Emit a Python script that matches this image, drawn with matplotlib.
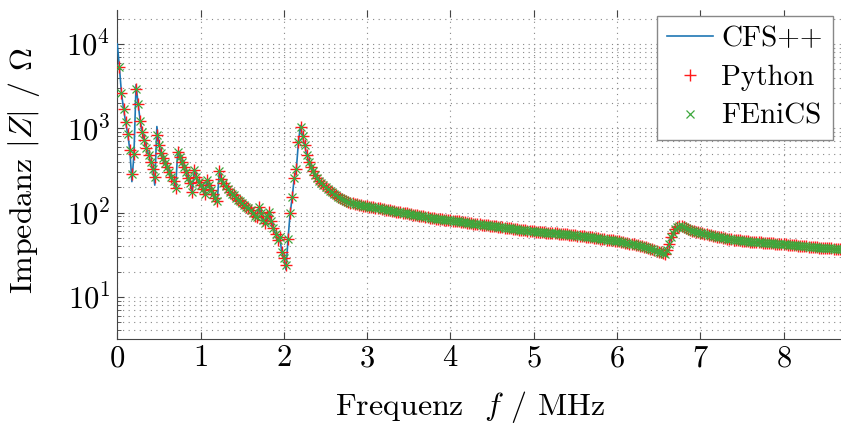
import numpy as np
import matplotlib.pyplot as plt
from matplotlib.ticker import LogLocator, NullFormatter

# frequency sweep: uniform steps of 0.025 MHz, 350 points
f_start = 0.025
f_step = 0.025
n_points = 350

# |Z| in Ohm (Python / FEniCS results), one row = 10 frequency steps
python_z = [
    5300, 2600, 1700, 1180, 850, 560, 290, 500, 2920, 1940,
    1220, 910, 720, 590, 480, 400, 330, 267, 830, 640,
    505, 440, 390, 345, 305, 267, 235, 194, 530, 460,
    400, 345, 300, 260, 225, 178, 320, 267, 233, 210,
    190, 168, 245, 210, 185, 165, 150, 136, 310, 250,
    225, 205, 190, 178, 168, 160, 150, 142, 136, 130,
    124, 118, 112, 106, 98, 92, 88, 118, 100, 82,
    76, 90, 103, 80, 65, 56, 47, 52, 34, 29,
    24, 49, 98, 152, 260, 330, 690, 1050, 800, 630,
    480, 400, 350, 310, 280, 258, 240, 225, 212, 200,
    190, 182, 175, 167, 161, 155, 150, 145, 141, 137,
    134, 131, 129, 127, 125, 123.5, 122, 121, 120, 119,
    118, 117, 116, 114.5, 113, 112, 110.5, 109, 108, 107,
    106, 105, 104, 103, 102, 101, 100, 99, 98, 97,
    96, 95, 94, 93, 92, 91, 90, 89, 88, 87,
    86.5, 86, 85, 84.5, 84, 83, 82.5, 82, 81.5, 81,
    80.5, 80, 79, 78.5, 78, 77, 76.5, 76, 75, 74.5,
    74, 73.5, 73, 72.5, 72, 71.5, 71, 70.5, 70, 69.5,
    69, 68.5, 68, 67.5, 67, 66.5, 66, 65.5, 65, 64.5,
    64, 63.5, 63, 62.5, 62, 61.5, 61, 60.5, 60.2, 60,
    59.7, 59.4, 59.1, 58.8, 58.5, 58.1, 57.8, 57.5, 57.2, 56.9,
    56.6, 56.3, 56, 55.7, 55.4, 55.1, 54.8, 54.5, 54.2, 53.8,
    53.5, 53.2, 52.8, 52.4, 52, 51.6, 51.2, 50.8, 50.4, 50,
    49.6, 49.2, 48.8, 48.4, 48, 47.6, 47.2, 46.8, 46.4, 46,
    45.5, 45, 44.5, 44, 43.5, 43, 42.5, 42, 41.5, 41,
    40.4, 39.8, 39.2, 38.6, 38, 37.3, 36.6, 35.9, 35.2, 34.5,
    33.8, 33, 32, 36, 43, 51, 58, 64, 68, 70,
    69, 67, 65, 63.5, 62, 61, 60, 59, 58.2, 57.4,
    56.6, 55.9, 55.2, 54.5, 53.8, 53.2, 52.6, 52, 51.4, 50.8,
    50.3, 49.8, 49.3, 48.8, 48.4, 48, 47.6, 47.2, 46.8, 46.5,
    46.2, 45.9, 45.6, 45.4, 45.2, 45, 44.8, 44.6, 44.4, 44.2,
    44, 43.8, 43.6, 43.4, 43.2, 43, 42.8, 42.6, 42.4, 42.2,
    42, 41.8, 41.5, 41.3, 41.1, 40.8, 40.6, 40.4, 40.1, 39.9,
    39.7, 39.5, 39.3, 39.1, 38.9, 38.7, 38.5, 38.3, 38.1, 37.9,
    37.8, 37.7, 37.6, 37.5, 37.4, 37.3, 37.2, 37.1, 37, 36.9,
]
fenics_z = list(python_z)

# CFS++ also has a point at 0 MHz and sharper extrema (index -> value)
cfs_first_f = 0.0
cfs_first_z = 10000
cfs_extrema = {6: 233, 8: 3300, 17: 212, 18: 1050, 80: 21, 87: 1080}

x_ticks = [0, 1, 2, 3, 4, 5, 6, 7, 8]


def main():
    plt.rcParams["font.family"] = "serif"
    plt.rcParams["font.serif"] = ["cmr10"]
    plt.rcParams["mathtext.fontset"] = "cm"
    plt.rcParams["axes.formatter.use_mathtext"] = True
    plt.rcParams["font.size"] = 22

    freq = f_start + f_step * np.arange(n_points)

    cfs_z = list(python_z)
    for i, v in cfs_extrema.items():
        cfs_z[i] = v
    cfs_f = np.concatenate([[cfs_first_f], freq])
    cfs_z = [cfs_first_z] + cfs_z

    fig = plt.figure(figsize=(8.41, 4.26), dpi=100)
    ax = fig.add_axes([0.1395, 0.2042, 0.8605, 0.7723])

    ax.plot(cfs_f, cfs_z, color="#1f77b4", lw=1.2, label="CFS++", zorder=3)
    ax.plot(freq, python_z, ls="none", marker="+", ms=8, mew=1.0,
            color="#ff1a1a", label="Python", zorder=4)
    ax.plot(freq, fenics_z, ls="none", marker="x", ms=6.3, mew=0.9,
            color="#3da83d", label="FEniCS", zorder=5)

    ax.set_yscale("log")
    ax.set_xlim(0, 8.69)
    ax.set_ylim(3.17, 2.53e4)
    ax.set_xticks(x_ticks)
    ax.yaxis.set_major_locator(LogLocator(base=10, numticks=10))
    ax.yaxis.set_minor_locator(LogLocator(base=10, subs=np.arange(2, 10), numticks=20))
    ax.yaxis.set_minor_formatter(NullFormatter())

    ax.grid(True, which="major", axis="x", color="#888888", lw=0.8, ls=(0, (1, 4)))
    ax.grid(True, which="both", axis="y", color="#888888", lw=0.8, ls=(0, (1, 4)))
    ax.set_axisbelow(True)

    ax.spines["top"].set_visible(False)
    ax.spines["right"].set_visible(False)
    ax.spines["left"].set_color("#444444")
    ax.spines["bottom"].set_color("#444444")
    ax.tick_params(axis="both", which="major", direction="in", length=5,
                   width=0.8, color="#444444", pad=5)
    ax.tick_params(axis="y", which="minor", direction="in", length=3,
                   width=0.6, color="#444444")
    ax.tick_params(axis="x", top=True, pad=4)

    ax.set_xlabel(r"Frequenz  $f$ / MHz", fontsize=23)
    ax.set_ylabel(r"Impedanz $|Z|$ / $\Omega$", fontsize=23)
    ax.xaxis.set_label_coords(0.487, -0.152)
    ax.yaxis.set_label_coords(-0.104, 0.51)

    leg = ax.legend(loc="upper right", bbox_to_anchor=(0.989, 0.982),
                    borderaxespad=0, fancybox=False, framealpha=1,
                    edgecolor="#888888", fontsize=21, handlelength=1.55,
                    handletextpad=0.3, labelspacing=0.42, borderpad=0.35)
    leg.get_frame().set_linewidth(1.0)

    fig.savefig("out.png", dpi=100)


if __name__ == "__main__":
    main()
